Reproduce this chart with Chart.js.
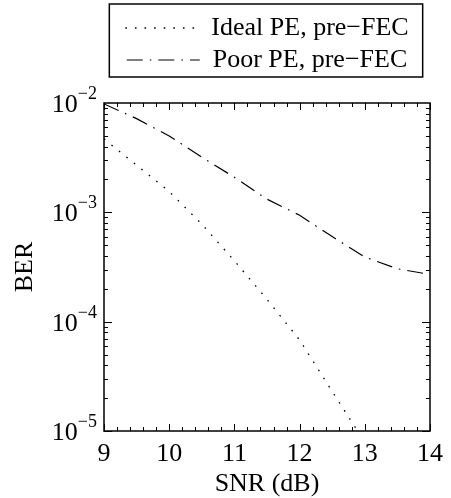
<!DOCTYPE html>
<html>
<head>
<meta charset="utf-8">
<script src="https://cdn.jsdelivr.net/npm/chart.js@4.4.0/dist/chart.umd.min.js"></script>
<style>
  html, body { margin: 0; padding: 0; background: #fff; }
</style>
</head>
<body>
<canvas id="grafico" width="451" height="498"></canvas>
<script>
// datos
const snrIdeal = [9, 9.5, 10, 10.5, 11, 11.5, 12, 12.5, 13];
const berIdeal = [4.7e-3, 2.7e-3, 1.55e-3, 7.8e-4, 3.6e-4, 1.6e-4, 6.8e-5, 2.3e-5, 7.9e-6];
const snrPoor = [9, 9.5, 10, 10.5, 11, 11.5, 12, 12.5, 13, 13.5, 14];
const berPoor = [9.8e-3, 7.2e-3, 5.0e-3, 3.2e-3, 2.09e-3, 1.32e-3, 9.4e-4, 6.0e-4, 3.9e-4, 3.05e-4, 2.7e-4];
const etiquetas = ["Ideal PE, pre\u2212FEC", "Poor PE, pre\u2212FEC"];
const xTicks = [9, 10, 11, 12, 13, 14];
const yDecadas = [-2, -3, -4, -5];

const fuente = "'Liberation Serif', 'Times New Roman', serif";

function puntos(xs, ys) {
  return xs.map((x, i) => ({ x: x, y: ys[i] }));
}

// ejes estilo matlab: caja, ticks hacia dentro, etiquetas 10^n
const ejesMatlab = {
  id: "ejesMatlab",
  beforeUpdate(chart) {
    // truco para dejar espacio debajo de la leyenda
    if (chart.legend && !chart.legend._parcheado) {
      const fitOriginal = chart.legend.fit;
      chart.legend.fit = function () {
        fitOriginal.bind(chart.legend)();
        this.height += 20;
      };
      chart.legend._parcheado = true;
    }
  },
  afterDraw(chart) {
    const ctx = chart.ctx;
    const a = chart.chartArea;
    const x = chart.scales.x;
    const y = chart.scales.y;
    ctx.save();
    ctx.strokeStyle = "#000";
    ctx.lineWidth = 1.5;
    ctx.setLineDash([]);
    ctx.strokeRect(a.left, a.top, a.right - a.left, a.bottom - a.top);

    ctx.lineWidth = 1;
    ctx.beginPath();
    for (let v = 9; v <= 14.001; v += 0.2) {
      const px = Math.round(x.getPixelForValue(v)) + 0.5;
      const mayor = Math.abs(v - Math.round(v)) < 0.01;
      const l = mayor ? 7 : 4;
      ctx.moveTo(px, a.bottom);
      ctx.lineTo(px, a.bottom - l);
      ctx.moveTo(px, a.top);
      ctx.lineTo(px, a.top + l);
    }
    for (let d = -5; d <= -3; d++) {
      for (let m = 1; m <= 9; m++) {
        const py = Math.round(y.getPixelForValue(m * Math.pow(10, d))) + 0.5;
        const l = m === 1 ? 8 : 4;
        ctx.moveTo(a.left, py);
        ctx.lineTo(a.left + l, py);
        ctx.moveTo(a.right, py);
        ctx.lineTo(a.right - l, py);
      }
    }
    ctx.stroke();

    // etiquetas del eje y con exponente
    ctx.fillStyle = "#000";
    ctx.textBaseline = "alphabetic";
    ctx.textAlign = "right";
    yDecadas.forEach((d) => {
      const py = y.getPixelForValue(Math.pow(10, d));
      const xr = a.left - 7;
      ctx.font = "18px " + fuente;
      const exp = "\u2212" + Math.abs(d);
      const w = ctx.measureText(exp).width;
      ctx.fillText(exp, xr, py - 4);
      ctx.font = "26px " + fuente;
      ctx.fillText("10", xr - w, py + 9);
    });

    // marco de la leyenda
    const cajas = chart.legend.legendHitBoxes;
    if (cajas && cajas.length) {
      let izq = Infinity, der = -Infinity;
      cajas.forEach((c) => {
        izq = Math.min(izq, c.left);
        der = Math.max(der, c.left + c.width);
      });
      const arriba = cajas[0].top - 11;
      const abajo = cajas[cajas.length - 1].top + cajas[cajas.length - 1].height + 4;
      ctx.lineWidth = 1.5;
      ctx.strokeRect(izq - 16, arriba, der - izq + 30, abajo - arriba);
    }
    ctx.restore();
  },
};

let ctx = document.getElementById("grafico").getContext("2d");
let grafico = new Chart(ctx, {
  type: "line",
  data: {
    datasets: [
      {
        label: etiquetas[0],
        data: puntos(snrIdeal, berIdeal),
        borderColor: "#000",
        backgroundColor: "#000",
        borderWidth: 1.3,
        borderDash: [1.6, 8],
        pointRadius: 0,
        tension: 0,
        clip: 0,
      },
      {
        label: etiquetas[1],
        data: puntos(snrPoor, berPoor),
        borderColor: "#000",
        backgroundColor: "#000",
        borderWidth: 1.2,
        borderDash: [16, 7, 1.6, 7],
        pointRadius: 0,
        tension: 0,
        clip: 0,
      },
    ],
  },
  plugins: [ejesMatlab],
  options: {
    responsive: false,
    animation: false,
    layout: { padding: { top: 9, right: 5, left: 0, bottom: 0 } },
    plugins: {
      tooltip: { enabled: false },
      legend: {
        position: "top",
        fullSize: false,
        labels: {
          usePointStyle: true,
          pointStyle: "line",
          pointStyleWidth: 73,
          padding: 6,
          color: "#000",
          font: { family: fuente, size: 26 },
          generateLabels(chart) {
            const items = Chart.defaults.plugins.legend.labels.generateLabels(chart);
            items.forEach((it) => {
              const ds = chart.data.datasets[it.datasetIndex];
              it.pointStyle = "line";
              it.lineDash = ds.borderDash;
              it.strokeStyle = ds.borderColor;
              it.lineWidth = ds.borderWidth;
            });
            return items;
          },
        },
      },
    },
    scales: {
      x: {
        type: "linear",
        min: 9,
        max: 14,
        afterBuildTicks(s) {
          s.ticks = xTicks.map((v) => ({ value: v }));
        },
        ticks: {
          color: "#000",
          font: { family: fuente, size: 26 },
          padding: 8,
          maxRotation: 0,
        },
        grid: { display: false, drawTicks: false },
        border: { display: false },
        title: {
          display: true,
          text: "SNR (dB)",
          color: "#000",
          font: { family: fuente, size: 26, lineHeight: 1 },
          padding: { top: 0, bottom: 1 },
        },
        afterFit(s) {
          s.height = 67;
        },
      },
      y: {
        type: "logarithmic",
        min: 1e-5,
        max: 1e-2,
        ticks: { display: false },
        grid: { display: false, drawTicks: false },
        border: { display: false },
        title: {
          display: true,
          text: "BER",
          color: "#000",
          font: { family: fuente, size: 26, lineHeight: 1 },
          padding: { top: 12, bottom: 0 },
        },
        afterFit(s) {
          s.width = 104;
        },
      },
    },
  },
});
</script>
</body>
</html>
